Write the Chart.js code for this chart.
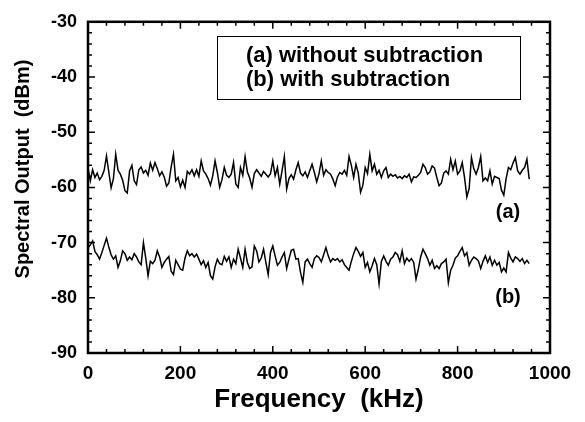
<!DOCTYPE html>
<html>
<head>
<meta charset="utf-8">
<script src="https://cdn.jsdelivr.net/npm/chart.js@4/dist/chart.umd.min.js"></script>
<style>
  html,body{margin:0;padding:0;background:#fff}
  #wrap{width:585px;height:422px}
</style>
</head>
<body>
<div id="wrap"><canvas id="c" width="585" height="422"></canvas></div>
<script>
// spectrum samples, one every FREQ_STEP kHz starting at 0
const FREQ_STEP = 5;
const withoutSub = [
  -56.5,-58.8,-56.8,-58.2,-57.4,-58.6,-58.0,-56.9,-54.3,-57.2,
  -60.1,-58.4,-54.0,-56.9,-57.6,-58.7,-60.6,-61.0,-57.0,-56.0,
  -58.8,-59.5,-56.8,-56.3,-57.4,-56.9,-57.8,-55.6,-56.9,-55.5,
  -56.6,-57.9,-57.2,-58.1,-59.8,-59.2,-56.3,-54.0,-58.8,-58.2,
  -59.9,-58.7,-60.0,-57.1,-57.6,-56.8,-57.9,-56.8,-58.0,-55.2,
  -57.0,-57.6,-58.4,-59.6,-57.9,-55.2,-57.3,-60.0,-58.6,-56.4,
  -57.8,-58.2,-57.6,-55.5,-59.4,-60.0,-56.4,-57.8,-54.4,-57.2,
  -58.3,-60.0,-57.5,-56.8,-57.4,-58.0,-57.1,-57.6,-58.1,-57.5,
  -55.2,-57.9,-56.4,-59.4,-57.0,-54.4,-60.3,-58.4,-57.7,-58.5,
  -56.8,-55.5,-57.4,-57.9,-57.2,-58.2,-57.0,-55.8,-57.3,-59.0,
  -57.5,-55.2,-57.8,-56.8,-57.3,-57.6,-58.5,-59.7,-58.1,-57.3,
  -57.6,-56.9,-57.8,-54.4,-56.0,-58.2,-55.8,-57.4,-60.9,-59.6,
  -56.4,-57.5,-54.0,-57.0,-55.8,-57.6,-56.9,-58.2,-57.0,-56.4,
  -58.2,-57.6,-58.0,-57.7,-58.3,-58.0,-58.4,-57.9,-58.2,-57.6,
  -59.0,-58.1,-58.2,-57.8,-57.3,-55.8,-56.4,-57.6,-57.2,-56.1,
  -56.5,-58.2,-59.7,-59.2,-57.4,-57.0,-57.6,-54.9,-56.8,-55.2,
  -57.6,-57.0,-55.5,-58.2,-61.7,-60.2,-54.6,-56.6,-57.6,-56.4,
  -54.4,-58.8,-58.3,-58.8,-57.0,-59.4,-58.0,-58.2,-58.4,-60.5,
  -61.4,-58.4,-56.4,-56.8,-55.6,-54.6,-57.0,-57.6,-56.9,-56.4,
  -54.9,-58.5
];
const withSub = [
  -71.0,-70.4,-69.7,-71.6,-72.2,-73.0,-71.8,-70.5,-69.2,-70.8,
  -72.2,-73.0,-72.4,-74.5,-73.3,-71.5,-72.0,-73.2,-72.6,-73.1,
  -72.0,-72.6,-73.5,-74.0,-70.0,-72.8,-76.0,-73.4,-73.8,-73.2,
  -71.5,-72.6,-74.5,-73.6,-73.0,-72.5,-75.2,-75.8,-73.2,-74.0,
  -74.8,-75.0,-72.8,-71.5,-72.4,-72.0,-72.6,-72.1,-73.0,-74.0,
  -73.3,-74.5,-73.6,-76.0,-76.6,-74.4,-73.0,-73.8,-74.0,-72.5,
  -73.4,-72.6,-74.5,-73.0,-73.8,-71.2,-72.8,-74.5,-71.2,-73.6,
  -74.7,-74.4,-70.6,-71.5,-73.5,-72.8,-71.2,-73.6,-75.8,-71.8,
  -70.6,-72.4,-74.1,-73.6,-72.6,-71.8,-74.7,-73.0,-71.4,-71.2,
  -73.0,-72.9,-75.4,-77.2,-73.5,-73.0,-73.8,-74.5,-72.9,-72.4,
  -72.7,-73.5,-72.2,-70.9,-72.4,-73.5,-72.9,-73.2,-72.9,-73.5,
  -73.1,-74.0,-74.5,-75.0,-73.4,-72.0,-70.9,-71.6,-72.5,-71.8,
  -74.5,-73.6,-75.3,-74.2,-72.9,-74.0,-77.5,-73.4,-72.4,-73.4,
  -74.1,-73.0,-72.6,-71.8,-72.2,-73.4,-71.5,-73.8,-72.8,-73.4,
  -72.9,-73.6,-76.6,-74.8,-72.6,-71.2,-72.0,-72.9,-74.1,-73.2,
  -74.7,-74.2,-74.7,-73.8,-73.5,-73.0,-77.3,-75.0,-74.1,-72.8,
  -72.4,-71.6,-70.9,-72.4,-71.8,-74.1,-73.2,-72.6,-72.9,-73.3,
  -74.7,-73.4,-72.4,-73.6,-72.6,-74.1,-73.2,-74.1,-73.6,-75.3,
  -74.6,-75.3,-71.8,-72.8,-73.5,-72.6,-72.9,-73.4,-72.9,-73.8,
  -73.2,-73.8
];
const legendLines = ['(a) without subtraction', '(b) with subtraction'];
const curveTags = ['(a)', '(b)'];
const yTitle = 'Spectral Output  (dBm)';

const toPoints = arr => arr.map((v,i)=>({x:i*FREQ_STEP, y:v}));
const FAM = '"Liberation Sans", Arial, sans-serif';

// frame, inward ticks on all four sides, legend box, curve tags, y title
const framePlugin = {
  id:'frame',
  afterDraw(chart){
    const {ctx, chartArea:a, scales:{x, y}} = chart;
    ctx.save();
    ctx.strokeStyle = '#000';
    ctx.lineWidth = 1.5;
    for(let f=0; f<=1000; f+=40){
      const px = x.getPixelForValue(f), len = f%200===0 ? 7 : 4;
      ctx.beginPath();
      ctx.moveTo(px, a.bottom); ctx.lineTo(px, a.bottom-len);
      ctx.moveTo(px, a.top); ctx.lineTo(px, a.top+len);
      ctx.stroke();
    }
    for(let d=-90; d<=-30; d+=2){
      const py = y.getPixelForValue(d), len = d%10===0 ? 7 : 4;
      ctx.beginPath();
      ctx.moveTo(a.left, py); ctx.lineTo(a.left+len, py);
      ctx.moveTo(a.right, py); ctx.lineTo(a.right-len, py);
      ctx.stroke();
    }
    ctx.lineWidth = 2.5;
    ctx.strokeRect(a.left, a.top, a.right-a.left, a.bottom-a.top);

    // legend box
    ctx.lineWidth = 1;
    ctx.strokeRect(217.5, 36.5, 303, 63);
    ctx.fillStyle = '#000';
    ctx.font = 'bold 22px ' + FAM;
    ctx.textBaseline = 'middle';
    ctx.fillText(legendLines[0], 246, 56);
    ctx.fillText(legendLines[1], 246, 80);

    // curve tags
    ctx.font = 'bold 20px ' + FAM;
    ctx.textAlign = 'center';
    ctx.fillText(curveTags[0], 508, y.getPixelForValue(-64.6));
    ctx.fillText(curveTags[1], 508, y.getPixelForValue(-80));

    // y axis title
    ctx.font = 'bold 20px ' + FAM;
    ctx.translate(23, 169);
    ctx.rotate(-Math.PI/2);
    ctx.fillText(yTitle, 0, 0);
    ctx.restore();
  }
};

new Chart(document.getElementById('c'), {
  type:'line',
  data:{datasets:[
    {data:toPoints(withoutSub), borderColor:'#000', borderWidth:1.5, pointRadius:0, tension:0},
    {data:toPoints(withSub), borderColor:'#000', borderWidth:1.5, pointRadius:0, tension:0}
  ]},
  options:{
    responsive:false, animation:false,
    layout:{padding:{top:14, right:35, left:0, bottom:0}},
    plugins:{legend:{display:false}, tooltip:{enabled:false}},
    scales:{
      x:{type:'linear', min:0, max:1000,
        ticks:{stepSize:200, color:'#000', font:{family:FAM, weight:'bold', size:19}, padding:9, maxRotation:0,
          callback:v=>String(v)},
        grid:{display:false, drawTicks:false}, border:{display:false},
        title:{display:true, text:'Frequency  (kHz)', color:'#000', font:{family:FAM, weight:'bold', size:26}, padding:{top:0, bottom:7}},
        afterFit:s=>{s.height = 69;}
      },
      y:{min:-90, max:-30,
        ticks:{stepSize:10, color:'#000', font:{family:FAM, weight:'bold', size:18}, padding:11},
        grid:{display:false, drawTicks:false}, border:{display:false},
        title:{display:false},
        afterFit:s=>{s.width = 88;}
      }
    }
  },
  plugins:[framePlugin]
});
</script>
</body>
</html>
